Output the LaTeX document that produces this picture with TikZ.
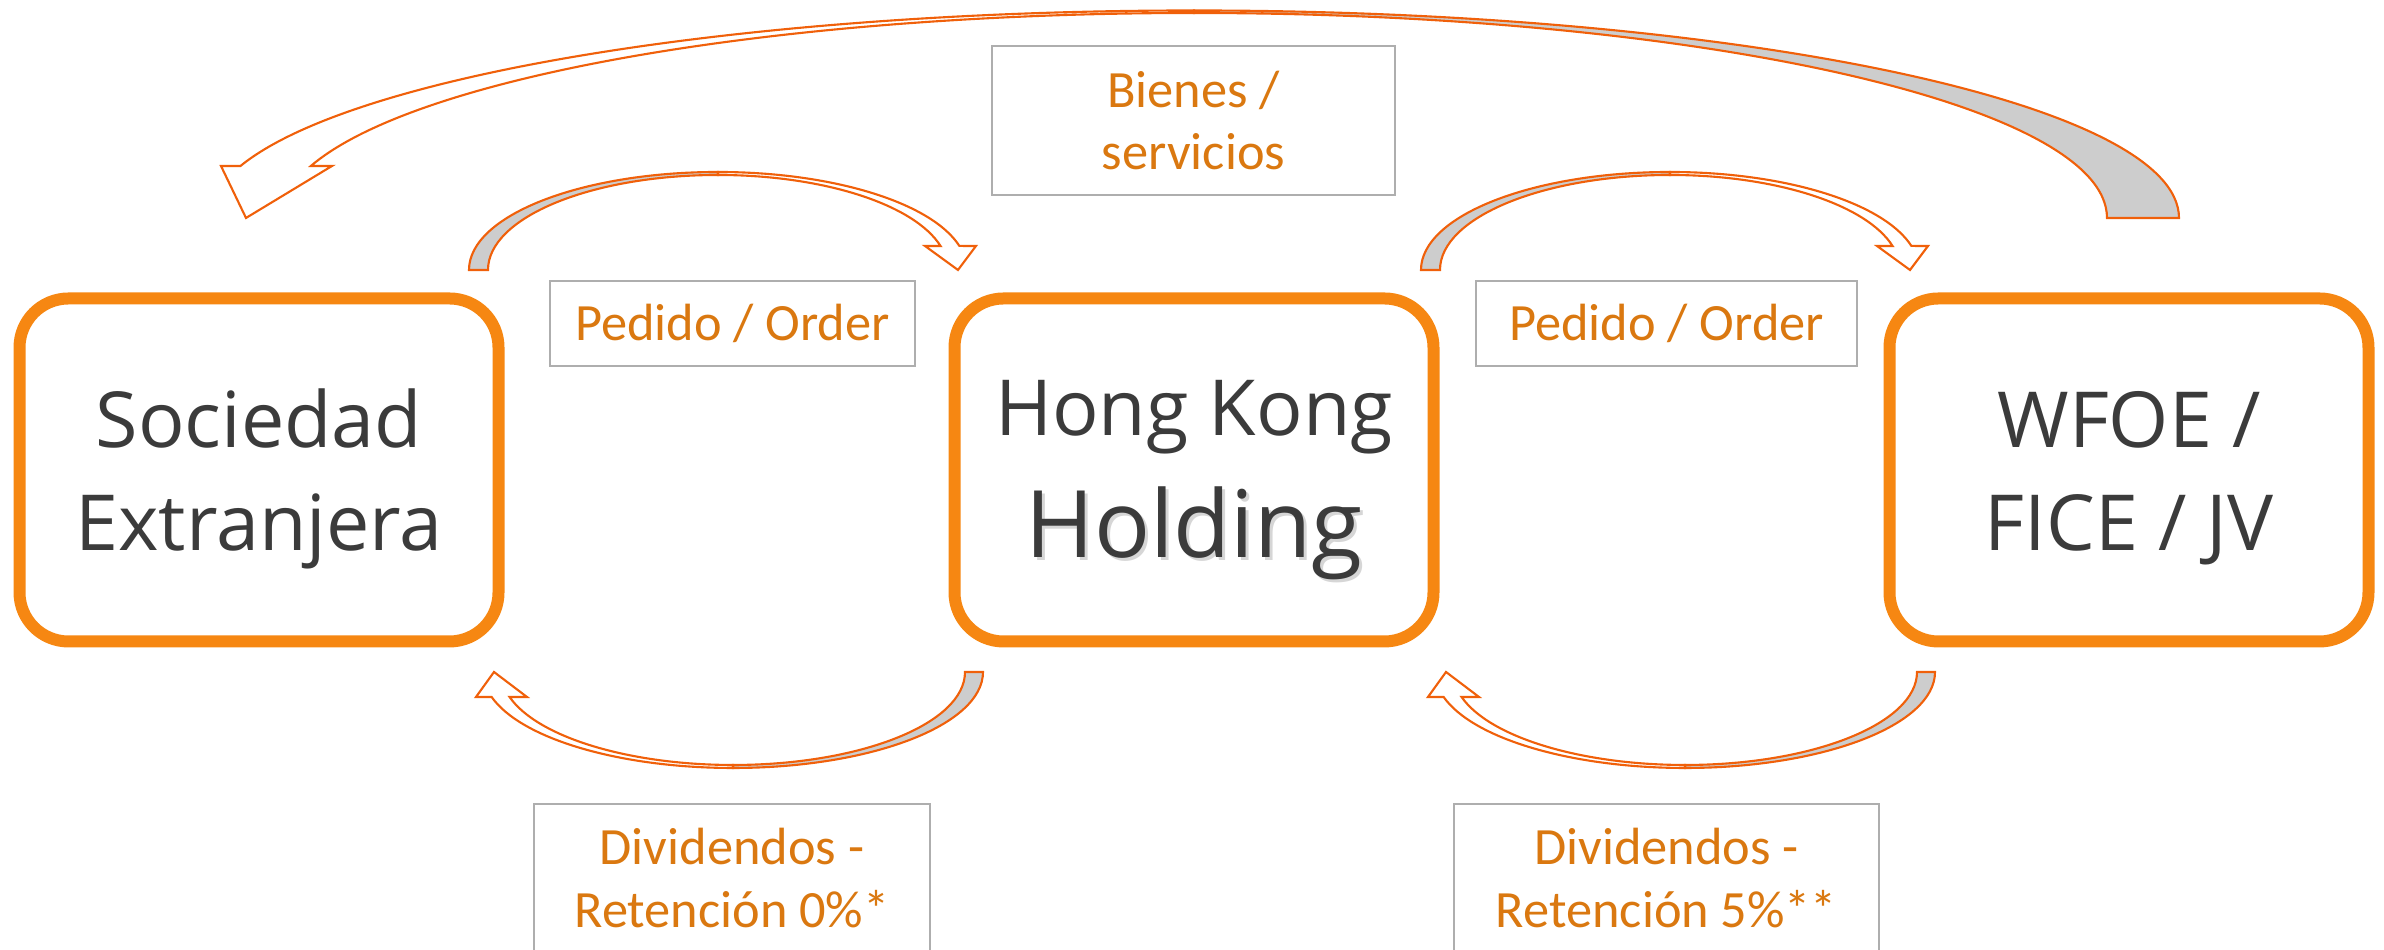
\documentclass[tikz,border=0pt]{standalone}
\usepackage{fontspec}
\setmainfont{Open Sans}
\newfontfamily\labelfont{Carlito}
\usepackage{tikz}
\usetikzlibrary{positioning,calc}
\definecolor{boxorange}{HTML}{F68712}
\definecolor{arroworange}{HTML}{F0600A}
\definecolor{labelorange}{HTML}{DA7810}
\definecolor{textgray}{HTML}{3B3B3B}
\definecolor{backgray}{HTML}{CDCDCD}
\definecolor{framegray}{HTML}{AEAEAE}

\begin{document}
\begin{tikzpicture}[x=0.1mm,y=0.1mm,
  entity/.style={draw=boxorange, line width=1.2mm, rounded corners=4.9mm, fill=white,
    minimum width=47.9mm, minimum height=34.3mm, inner sep=0pt},
  entitytext/.style={text=textgray, inner sep=0pt, anchor=base, font=\fontsize{22}{26}\selectfont},
  flowlabel/.style={draw=framegray, line width=0.5pt, fill=white, inner sep=0pt, align=center,
    text=labelorange, font=\labelfont\fontsize{14.9}{17.9}\selectfont},
  arrowback/.style={draw=arroworange, line width=0.6pt, fill=backgray},
  arrowfront/.style={draw=arroworange, line width=0.6pt, fill=white}]
\useasboundingbox (0,0) rectangle (2384,950);

\node[entity] (hk) at (1194,480) {};
\node[entity, left=44.4mm of hk] (soc) {};
\node[entity, right=44.4mm of hk] (wfoe) {};

\node[entitytext] (socA) at ($(soc.center)+(0,22)$) {Sociedad};
\node[entitytext] (socB) at ($(soc.center)+(0,-81)$) {Extranjera};
\node[entitytext] (hkA) at ($(hk.center)+(0,34)$) {Hong Kong};
\node[entitytext, text=black!16, font=\fontsize{26.5}{30}\selectfont] (hkS) at ($(hk.center)+(3,-91)$) {Holding};
\node[entitytext, font=\fontsize{26.5}{30}\selectfont] (hkB) at ($(hk.center)+(0,-88)$) {Holding};
\node[entitytext] (wfoeA) at ($(wfoe.center)+(0,22)$) {WFOE /};
\node[entitytext] (wfoeB) at ($(wfoe.center)+(0,-81)$) {FICE / JV};

\node[flowlabel, minimum width=36.5mm, minimum height=8.5mm] (pedL) at (732.5,626.5) {Pedido / Order};
\node[flowlabel, minimum width=38.1mm, minimum height=8.5mm] (pedR) at (1666.5,626.5) {Pedido / Order};
\node[flowlabel, minimum width=40.3mm, minimum height=14.9mm] (bienes) at (1193.5,829.5) {Bienes /\\servicios};
\node[flowlabel, minimum width=39.6mm, minimum height=14.8mm] (divL) at (732,72) {Dividendos -\\Retención 0\%*};
\node[flowlabel, minimum width=42.5mm, minimum height=14.8mm] (divR) at (1666.5,72) {Dividendos -\\Retención 5\%**};

\foreach \sx in {0,952}{
  \begin{scope}[shift={(718+\sx,680)}]
    \draw[arrowback] (180:249 and 98) arc[start angle=180, end angle=90, x radius=249, y radius=98]
      -- (90:230 and 95) arc[start angle=90, end angle=180, x radius=230, y radius=95] -- cycle;
    \draw[arrowfront] (90:249 and 98) arc[start angle=90, end angle=14.2, x radius=249, y radius=98]
      -- (258,24) -- (240,0) -- (207,24) -- (14.6:230 and 95)
      arc[start angle=14.6, end angle=90, x radius=230, y radius=95] -- cycle;
  \end{scope}
  \begin{scope}[shift={(733+\sx,278)}]
    \draw[arrowback] (0:250 and 96) arc[start angle=0, end angle=-90, x radius=250, y radius=96]
      -- (-90:232 and 93) arc[start angle=-90, end angle=0, x radius=232, y radius=93] -- cycle;
    \draw[arrowfront] (-90:250 and 96) arc[start angle=-90, end angle=-164.9, x radius=250, y radius=96]
      -- (-257,-25) -- (-239,0) -- (-206,-25) -- (-164.4:232 and 93)
      arc[start angle=-164.4, end angle=-90, x radius=232, y radius=93] -- cycle;
  \end{scope}
}

\begin{scope}[shift={(1194,732)}]
  \draw[arrowback] (0:985 and 207.5) arc[start angle=0, end angle=90, x radius=985, y radius=207.5]
    -- (90:913 and 205) arc[start angle=90, end angle=0, x radius=913, y radius=205] -- cycle;
  \draw[arrowfront] (90:985 and 207.5) arc[start angle=90, end angle=165.5, x radius=985, y radius=207.5]
    -- (-973,52) -- (-948,0) -- (-862,52) -- (165.3:913 and 205)
    arc[start angle=165.3, end angle=90, x radius=913, y radius=205] -- cycle;
\end{scope}
\end{tikzpicture}
\end{document}
